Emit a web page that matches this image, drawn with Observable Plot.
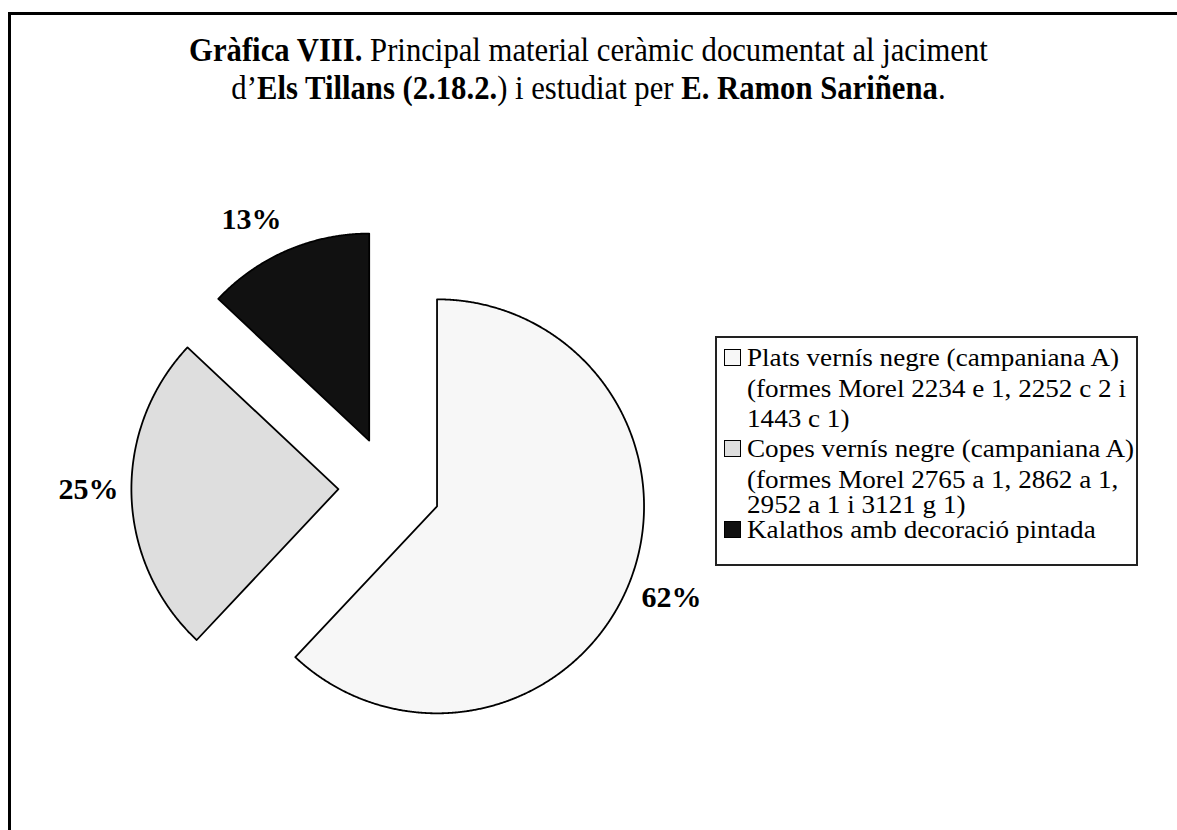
<!DOCTYPE html>
<html><head><meta charset="utf-8">
<script src="https://cdn.jsdelivr.net/npm/d3@7"></script>
<script src="https://cdn.jsdelivr.net/npm/@observablehq/plot@0.6"></script>
<style>
body{margin:0;background:#fff;}
#page{position:relative;width:1177px;height:830px;overflow:hidden;font-family:"Liberation Serif","Times New Roman",serif;color:#000;}
#chart{position:absolute;left:0;top:0;}
#frame{position:absolute;left:8px;top:12px;width:1300px;height:900px;border-left:3px solid #000;border-top:3px solid #000;}
.title{position:absolute;left:0;width:1177px;text-align:center;font-size:33px;line-height:1;white-space:nowrap;transform:scaleX(0.93);transform-origin:588px 0;}
#legend{position:absolute;left:715px;top:336px;width:419px;height:226px;border:2px solid #222;}
.lg{position:absolute;font-size:25px;line-height:1;white-space:nowrap;transform:scaleX(1.085);transform-origin:0 0;}
.sw{position:absolute;width:15px;height:15px;border:1.5px solid #000;}
</style></head>
<body>
<div id="page">
  <div id="chart"></div>
  <div id="frame"></div>
  <div class="title" style="top:34px"><b>Gràfica VIII.</b> Principal material ceràmic documentat al jaciment</div>
  <div class="title" style="top:72px">d’<b>Els Tillans (2.18.2.</b>) i estudiat per <b>E. Ramon Sariñena</b>.</div>
  <div id="legend"></div>
</div>
<script>
// ---- data ----
const categories = [
  "Plats vernís negre (campaniana A) (formes Morel 2234 e 1, 2252 c 2 i 1443 c 1)",
  "Copes vernís negre (campaniana A) (formes Morel 2765 a 1, 2862 a 1, 2952 a 1 i 3121 g 1)",
  "Kalathos amb decoració pintada"
];
const values = [62, 25, 13];
const legendLines = [
  ["Plats vernís negre (campaniana A)", "(formes Morel 2234 e 1, 2252 c 2 i", "1443 c 1)"],
  ["Copes vernís negre (campaniana A)", "(formes Morel 2765 a 1, 2862 a 1,", "2952 a 1 i 3121 g 1)"],
  ["Kalathos amb decoració pintada"]
];
const fills = ["#f7f7f7", "#dedede", "#111111"];

// ---- layout ----
const W = 1177, H = 830;
const CX = 389, CY = 487, R = 207;     // pie centre and radius in px
const EXPLODE = 0.247;                  // explode distance, in radii
const LABEL_R = 1.46;                   // label distance, in radii
const labelNudge = [[1, 1], [1, 8], [-18, -9]]; // px nudges (right, up) for label placement
const lineBaselines = [366, 397, 427, 457, 488, 513, 538];
const LEG_TEXT_X = 747, LEG_SW_X = 724;

const data = categories.map((c, i) => ({category: c, value: values[i]}));
const arcs = d3.pie().sort(null).value(d => d.value)(data);

const points = [];
const labels = [];
arcs.forEach((a, k) => {
  const mid = (a.startAngle + a.endAngle) / 2;
  const ox = EXPLODE * Math.sin(mid), oy = EXPLODE * Math.cos(mid);
  const cat = a.data.category;
  points.push({category: cat, x: ox, y: oy});
  const n = Math.max(4, Math.ceil((a.endAngle - a.startAngle) / 0.005));
  for (let i = 0; i <= n; i++) {
    const t = a.startAngle + (a.endAngle - a.startAngle) * i / n;
    points.push({category: cat, x: ox + Math.sin(t), y: oy + Math.cos(t)});
  }
  points.push({category: cat, x: ox, y: oy});
  labels.push({
    x: LABEL_R * Math.sin(mid) + labelNudge[k][0] / R,
    y: LABEL_R * Math.cos(mid) + labelNudge[k][1] / R,
    text: a.data.value + "%"
  });
});

const chart = Plot.plot({
  width: W, height: H, margin: 0,
  style: {background: "transparent", overflow: "visible"},
  x: {domain: [-CX / R, (W - CX) / R], axis: null},
  y: {domain: [-(H - CY) / R, CY / R], axis: null},
  color: {domain: categories, range: fills},
  marks: [
    Plot.line(points, {x: "x", y: "y", z: "category", fill: "category", stroke: "#000", strokeWidth: 1.8, strokeLinejoin: "round"}),
    Plot.text(labels, {x: "x", y: "y", text: "text", fontSize: 30, fontWeight: "bold", fontFamily: "Liberation Serif, Times New Roman, serif", fill: "#000"})
  ]
});
document.getElementById("chart").appendChild(chart);

// ---- legend (HTML) ----
const page = document.getElementById("page");
let li = 0;
legendLines.forEach((lines, k) => {
  lines.forEach((txt, j) => {
    const base = lineBaselines[li++];
    const d = document.createElement("div");
    d.className = "lg";
    d.textContent = txt;
    d.style.left = LEG_TEXT_X + "px";
    d.style.top = (base - 21) + "px";
    page.appendChild(d);
    if (j === 0) {
      const s = document.createElement("div");
      s.className = "sw";
      s.style.left = LEG_SW_X + "px";
      s.style.top = (base - 17) + "px";
      s.style.background = fills[k];
      page.appendChild(s);
    }
  });
});
</script>
</body></html>
